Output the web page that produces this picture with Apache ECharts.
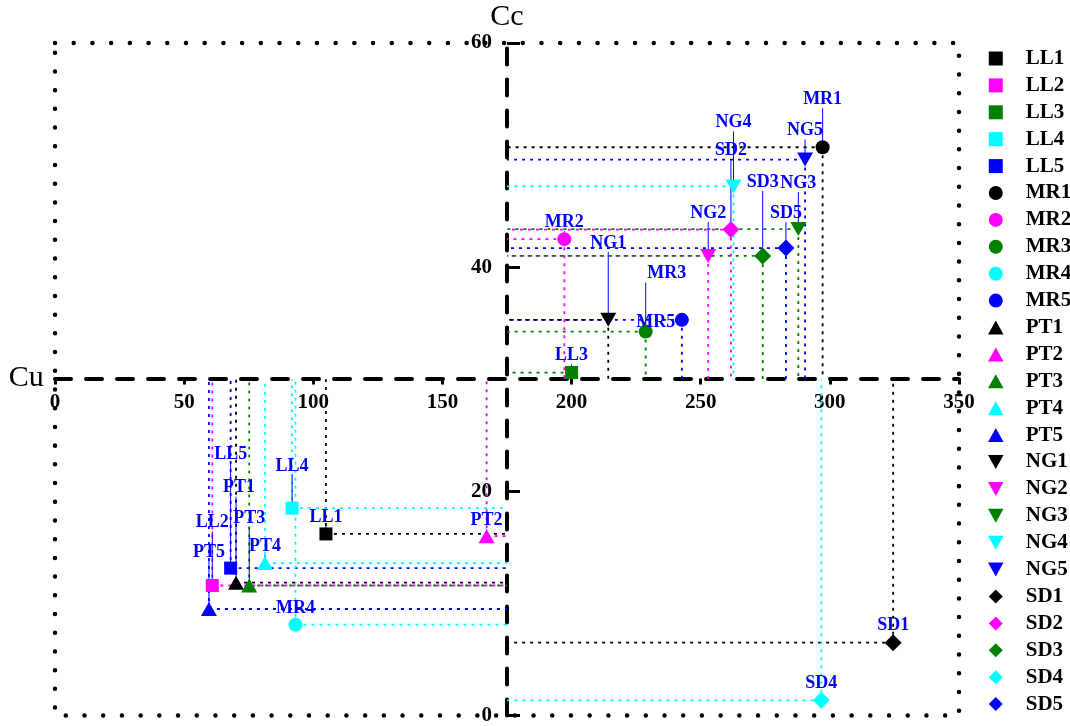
<!DOCTYPE html>
<html>
<head>
<meta charset="utf-8">
<script src="https://cdn.jsdelivr.net/npm/echarts@6/dist/echarts.min.js"></script>
<style>
  html, body { margin: 0; padding: 0; background: #fff; }
  #chart { width: 1070px; height: 726px; }
</style>
</head>
<body>
<div id="chart"></div>
<script>
// Sample identifiers (site group + replicate number)
const sampleNames = ['LL1', 'LL2', 'LL3', 'LL4', 'LL5',
                     'MR1', 'MR2', 'MR3', 'MR4', 'MR5',
                     'PT1', 'PT2', 'PT3', 'PT4', 'PT5',
                     'NG1', 'NG2', 'NG3', 'NG4', 'NG5',
                     'SD1', 'SD2', 'SD3', 'SD4', 'SD5'];

// Coefficient of uniformity (Cu) per sample
const cuValues = [104.9, 60.9, 200.0, 91.8, 68.0,
                  297.2, 197.2, 228.7, 93.1, 242.7,
                  70.1, 167.1, 75.2, 81.3, 59.6,
                  214.2, 252.9, 287.8, 262.7, 290.4,
                  324.5, 261.7, 274.0, 296.7, 283.0];

// Coefficient of curvature (Cc) per sample
const ccValues = [16.2, 11.6, 30.6, 18.5, 13.15,
                  50.7, 42.5, 34.25, 8.1, 35.3,
                  11.85, 16.0, 11.6, 13.6, 9.5,
                  35.3, 41.0, 43.4, 47.2, 49.6,
                  6.5, 43.35, 41.0, 1.35, 41.7];

// Axis ticks
const cuTicks = { min: 0, max: 350, step: 50 };
const ccTicks = { min: 0, max: 60, step: 20 };

// Where the two reference axes cross each other
const CU_CROSS = 175;
const CC_CROSS = 30;

// Styling: colour by replicate, marker by site group
const replicateColors = ['#000000', '#ff00ff', '#008000', '#00ffff', '#0000ff'];
const groupSymbols = {
  LL: { symbol: 'path://M0,0H10V10H0Z', size: 13 },
  MR: { symbol: 'circle', size: 14 },
  PT: { symbol: 'path://M5,0L10,9L0,9Z', size: [16, 14] },
  NG: { symbol: 'path://M0,0L10,0L5,9Z', size: [16, 14] },
  SD: { symbol: 'path://M5,0L10,5L5,10L0,5Z', size: [17, 17] }
};

// Label placement relative to each marker, in pixels [dx, dy]
const labelOffsets = {
  LL1: [0, -17], LL2: [0, -63], LL3: [0, -17], LL4: [0, -42], LL5: [0, -114],
  MR1: [0, -48], MR2: [0, -17], MR3: [21, -58], MR4: [0, -16], MR5: [-26, 2],
  PT1: [3, -95], PT2: [0, -16], PT3: [0, -67], PT4: [0, -17], PT5: [0, -57],
  NG1: [0, -77], NG2: [0, -43], NG3: [0, -46], NG4: [0, -64], NG5: [0, -29],
  SD1: [0, -17], SD2: [0, -79], SD3: [0, -74], SD4: [0, -17], SD5: [0, -35]
};

const SERIF = "'Liberation Serif', 'Times New Roman', serif";

const gridBox = { left: 55, top: 43, width: 904, height: 674 };

function colorOf(i) { return replicateColors[i % 5]; }
function groupOf(name) { return groupSymbols[name.slice(0, 2)]; }

const pointRows = sampleNames.map((n, i) => [cuValues[i], ccValues[i], i]);

// Dotted outer frame around the whole value range
function renderFrame(params, api) {
  const tl = api.coord([cuTicks.min, ccTicks.max]);
  const br = api.coord([cuTicks.max, ccTicks.min]);
  return {
    type: 'rect',
    shape: { x: tl[0], y: tl[1], width: br[0] - tl[0], height: br[1] - tl[1] },
    style: { fill: null, stroke: '#000', lineWidth: 4.5, lineDash: [0.01, 18.7], lineCap: 'round' }
  };
}

// Dotted projections onto both axes plus label leader lines
function renderGuides(params, api) {
  const i = api.value(2);
  const p = api.coord([api.value(0), api.value(1)]);
  const cross = api.coord([CU_CROSS, CC_CROSS]);
  const dotted = { stroke: colorOf(i), lineWidth: 1.8, lineDash: [3, 5], fill: null };
  const children = [
    { type: 'line', shape: { x1: p[0], y1: p[1], x2: cross[0], y2: p[1] }, style: dotted },
    { type: 'line', shape: { x1: p[0], y1: p[1], x2: p[0], y2: cross[1] }, style: dotted }
  ];
  const off = labelOffsets[sampleNames[i]];
  if (off[1] < 0) {
    children.push({
      type: 'line',
      shape: { x1: p[0], y1: p[1] + off[1] + 9, x2: p[0], y2: p[1] },
      style: { stroke: '#0000ff', lineWidth: 1, fill: null }
    });
  }
  return { type: 'group', children: children };
}

function renderLabels(params, api) {
  const i = api.value(2);
  const p = api.coord([api.value(0), api.value(1)]);
  const off = labelOffsets[sampleNames[i]];
  return {
    type: 'text',
    x: p[0] + off[0],
    y: p[1] + off[1],
    style: {
      text: sampleNames[i],
      fill: '#0000ff',
      fontFamily: SERIF,
      fontWeight: 'bold',
      fontSize: 18,
      align: 'center',
      verticalAlign: 'middle'
    }
  };
}

const scatterSeries = sampleNames.map((name, i) => {
  const g = groupOf(name);
  return {
    type: 'scatter',
    name: name,
    data: [[cuValues[i], ccValues[i]]],
    symbol: g.symbol,
    symbolSize: g.size,
    itemStyle: { color: colorOf(i), opacity: 1 },
    emphasis: { disabled: true },
    z: 3
  };
});

const axisLabelFont = { fontFamily: SERIF, fontWeight: 'bold', fontSize: 21, color: '#000' };

const option = {
  animation: false,
  backgroundColor: '#fff',
  grid: {
    left: gridBox.left, top: gridBox.top, width: gridBox.width, height: gridBox.height,
    show: false
  },
  xAxis: {
    type: 'value',
    min: cuTicks.min, max: cuTicks.max, interval: cuTicks.step,
    position: 'bottom',
    offset: -gridBox.height * (CC_CROSS - ccTicks.min) / (ccTicks.max - ccTicks.min),
    name: 'Cu',
    nameLocation: 'start',
    nameGap: 10,
    nameTextStyle: { fontFamily: SERIF, fontSize: 30, color: '#000' },
    axisLine: { onZero: false, lineStyle: { color: '#000', width: 4, type: [16, 15] } },
    axisTick: { show: true, inside: false, length: 6, lineStyle: { color: '#000', width: 3 } },
    axisLabel: Object.assign({ margin: 14 }, axisLabelFont),
    splitLine: { show: false }
  },
  yAxis: {
    type: 'value',
    min: ccTicks.min, max: ccTicks.max, interval: ccTicks.step,
    position: 'left',
    offset: -gridBox.width * (CU_CROSS - cuTicks.min) / (cuTicks.max - cuTicks.min),
    name: 'Cc',
    nameLocation: 'end',
    nameGap: 0,
    nameTextStyle: { fontFamily: SERIF, fontSize: 30, color: '#000' },
    axisLine: { onZero: false, lineStyle: { color: '#000', width: 4, type: [16, 15] } },
    axisTick: { show: true, inside: true, length: 13, lineStyle: { color: '#000', width: 3 } },
    axisLabel: Object.assign({ margin: 15 }, axisLabelFont),
    splitLine: { show: false }
  },
  legend: {
    data: sampleNames,
    orient: 'vertical',
    left: 983,
    top: 43,
    padding: 5,
    itemWidth: 50,
    itemHeight: 14,
    itemGap: 5.9,
    selectedMode: false,
    textStyle: { fontFamily: SERIF, fontWeight: 'bold', fontSize: 21, color: '#000', width: 30, overflow: 'none' }
  },
  series: [
    {
      type: 'custom',
      name: 'frame',
      data: [[cuTicks.min, ccTicks.min]],
      encode: { x: 0, y: 1 },
      renderItem: renderFrame,
      silent: true,
      z: 1
    },
    {
      type: 'custom',
      name: 'projections',
      data: pointRows,
      encode: { x: 0, y: 1 },
      renderItem: renderGuides,
      silent: true,
      z: 2
    }
  ].concat(scatterSeries).concat([
    {
      type: 'custom',
      name: 'sample labels',
      data: pointRows,
      encode: { x: 0, y: 1 },
      renderItem: renderLabels,
      silent: true,
      z: 4
    }
  ])
};

const chart = echarts.init(document.getElementById('chart'), null, { renderer: 'canvas' });
chart.setOption(option);
</script>
</body>
</html>
